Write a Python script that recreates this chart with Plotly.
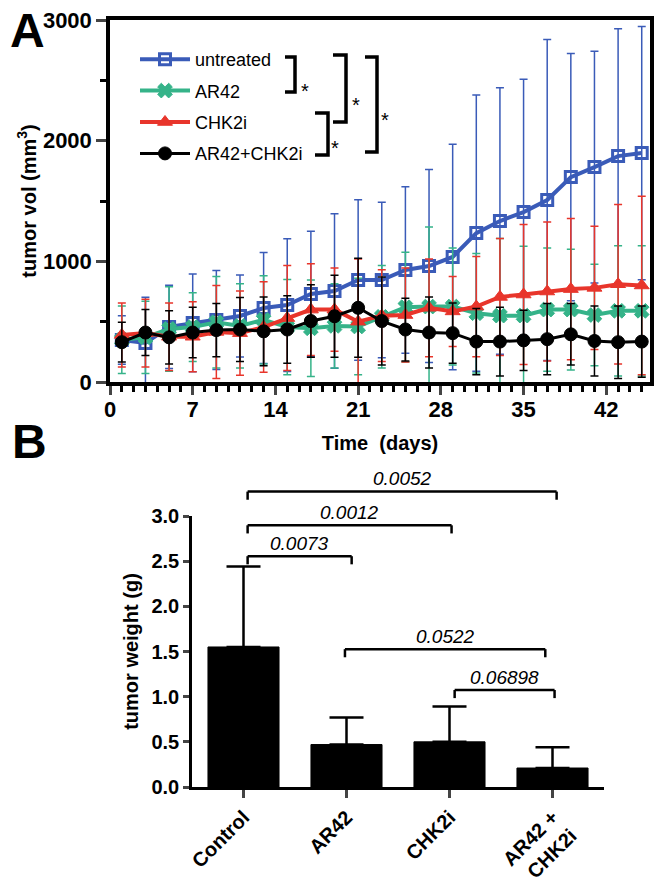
import plotly.graph_objects as go

W, H = 664, 885

# ---- panel A: tumour volume (mm3) over time, mean and SD ----
days = [1, 3, 5, 7, 9, 11, 13, 15, 17, 19, 21, 23, 25, 27, 29, 31, 33, 35, 37, 39, 41, 43, 45]

untreated = [348, 323, 456, 489, 514, 547, 613, 638, 729, 754, 845, 845, 928, 961, 1036,
             1234, 1334, 1408, 1508, 1698, 1781, 1872, 1897]
untreated_sd = [200, 380, 345, 405, 410, 340, 460, 550, 520, 640, 665, 645, 690, 800, 935,
                1145, 1105, 1100, 1330, 1025, 960, 1055, 1050]

ar42 = [350, 370, 440, 455, 495, 465, 515, 455, 445, 465, 460, 540, 620, 625, 625,
        570, 550, 550, 600, 600, 555, 590, 590]
ar42_sd = [280, 300, 350, 285, 380, 350, 365, 395, 400, 350, 400, 425, 455, 660, 485,
           495, 640, 575, 510, 500, 420, 540, 540]

chk2i = [390, 405, 375, 375, 415, 405, 455, 530, 600, 600, 500, 550, 555, 615, 585,
         625, 705, 725, 750, 770, 780, 810, 800]
chk2i_sd = [265, 280, 280, 290, 385, 350, 375, 435, 380, 345, 520, 380, 390, 405, 290,
            415, 485, 580, 575, 585, 510, 660, 740]

combo = [330, 410, 370, 410, 430, 435, 420, 435, 505, 545, 615, 505, 435, 410, 405,
         335, 335, 345, 355, 395, 340, 330, 335]
combo_sd = [165, 190, 220, 210, 220, 265, 285, 280, 300, 340, 410, 365, 260, 295, 250,
            275, 285, 250, 295, 255, 290, 300, 295]

# ---- panel B: tumour weight at end point ----
groups = ['Control', 'AR42', 'CHK2i', 'AR42 +<br>CHK2i']
weight = [1.55, 0.47, 0.50, 0.21]
weight_sd = [0.89, 0.30, 0.39, 0.23]

# p-values and which two groups they compare
p_labels = ['0.0073', '0.0012', '0.0052', '0.0522', '0.06898']
p_pairs = [(0, 1), (0, 2), (0, 3), (1, 3), (2, 3)]

FONT = 'Arial, Liberation Sans, sans-serif'
BLUE, GREEN, RED = '#3a5bb8', '#35b389', '#e8352b'


def px(x):
    return x / W


def py(y):
    return 1 - y / H


fig = go.Figure()

series = [
    ('untreated', untreated, untreated_sd, BLUE, 'square-open', 11, 3),
    ('AR42', ar42, ar42_sd, GREEN, 'x', 13, 1),
    ('CHK2i', chk2i, chk2i_sd, RED, 'triangle-up', 13, 1),
    ('AR42+CHK2i', combo, combo_sd, 'black', 'circle', 13, 1),
]
for name, vals, sd, col, sym, size, mlw in series:
    fig.add_trace(go.Scatter(
        x=days, y=vals, name=name, legendgroup=name,
        mode='lines+markers',
        line=dict(color=col, width=4 if col != 'black' else 3),
        marker=dict(symbol=sym, size=size, color=col, line=dict(color=col, width=mlw)),
        error_y=dict(type='data', array=sd, color=col, thickness=1.5, width=4),
        xaxis='x', yaxis='y',
    ))

fig.add_trace(go.Bar(
    x=list(range(len(groups))), y=weight, width=0.69,
    marker=dict(color='black', line=dict(color='black', width=1)),
    error_y=dict(type='data', array=weight_sd, arrayminus=[0] * len(groups),
                 symmetric=False, color='black', thickness=2.5, width=17),
    showlegend=False, xaxis='x2', yaxis='y2',
))

tickfont = dict(family=FONT, size=22, color='black', weight='bold')
titlefont = dict(family=FONT, size=20, color='black', weight='bold')

# automargin off everywhere: the domains below are exact pixel positions
fig.update_layout(
    width=W, height=H,
    margin=dict(l=0, r=0, t=0, b=0, autoexpand=False),
    paper_bgcolor='white', plot_bgcolor='white',
    showlegend=True,
    legend=dict(x=px(135), y=py(41), xanchor='left', yanchor='top',
                font=dict(family=FONT, size=18, color='black'),
                bgcolor='rgba(0,0,0,0)', tracegroupgap=5, itemwidth=50),
    xaxis=dict(domain=[px(110), px(650)], range=[0, 45.7], anchor='y', automargin=False,
               tickvals=[0, 7, 14, 21, 28, 35, 42], ticks='outside', ticklen=9, tickwidth=3,
               ticklabelstandoff=-4,
               minor=dict(dtick=1, tick0=0, ticks='outside', ticklen=6, tickwidth=2.5, tickcolor='black'),
               showline=True, linewidth=3.5, linecolor='black', mirror=True,
               showgrid=False, zeroline=False, tickfont=tickfont,
               title=dict(text='Time  (days)', font=titlefont, standoff=16)),
    yaxis=dict(domain=[py(382), py(20)], range=[0, 3000], anchor='x', automargin=False,
               tickvals=[0, 1000, 2000, 3000], ticks='outside', ticklen=10, tickwidth=3,
               minor=dict(dtick=500, ticks='outside', ticklen=6, tickwidth=3, tickcolor='black'),
               showline=True, linewidth=3.5, linecolor='black', mirror=True,
               showgrid=False, zeroline=False, tickfont=tickfont,
               title=dict(text='tumor vol (mm<sup>3</sup>)', font=titlefont, standoff=2)),
    xaxis2=dict(domain=[px(192), px(604)], range=[-0.5, 3.5], anchor='y2', automargin=False,
                tickvals=list(range(len(groups))), ticktext=groups, tickangle=-45,
                ticks='outside', ticklen=8, tickwidth=2.5,
                showline=True, linewidth=2.5, linecolor='black',
                showgrid=False, zeroline=False,
                tickfont=dict(family=FONT, size=20, color='black', weight='bold')),
    yaxis2=dict(domain=[py(787), py(516)], range=[0, 3.0], anchor='x2', automargin=False,
                tickvals=[0, 0.5, 1.0, 1.5, 2.0, 2.5, 3.0], tickformat='.1f',
                ticks='outside', ticklen=6, tickwidth=2.5,
                showline=True, linewidth=2.5, linecolor='black',
                showgrid=False, zeroline=False,
                tickfont=dict(family=FONT, size=20, color='black', weight='bold'),
                title=dict(text='tumor weight (g)', font=titlefont, standoff=8)),
)

# panel letters
for letter, cx, cy in [('A', 28, 30), ('B', 29, 441)]:
    fig.add_annotation(text=letter, x=px(cx), y=py(cy), xref='paper', yref='paper',
                       showarrow=False, xanchor='center', yanchor='middle',
                       font=dict(family=FONT, size=48, color='black', weight='bold'))

# significance brackets next to the legend (pixel positions: left, right, top, bottom, star x, star y)
legend_brackets = [
    (285, 295, 57, 92, 305, 78),
    (315, 328, 113, 155, 335, 135),
    (333, 346, 55, 122, 356, 92),
    (365, 377, 57, 152, 385, 107),
]
for x0, x1, y0, y1, sx, sy in legend_brackets:
    path = 'M {a},{b} L {c},{b} L {c},{d} L {a},{d}'.format(a=px(x0), b=py(y0), c=px(x1), d=py(y1))
    fig.add_shape(type='path', path=path, xref='paper', yref='paper',
                  line=dict(color='black', width=3.5))
    fig.add_annotation(text='*', x=px(sx), y=py(sy), xref='paper', yref='paper',
                       showarrow=False, font=dict(family=FONT, size=20, color='black'))

# p-value brackets in panel B (height in g, small x offsets at each end)
bracket_y = [2.555, 2.897, 3.27, 1.526, 1.074]
bracket_dx = [(0.04, 0.05), (0.04, 0.02), (0.04, 0.04), (-0.015, -0.07), (0.05, 0.02)]
drop = 0.09
for label, (i, j), yb, (d0, d1) in zip(p_labels, p_pairs, bracket_y, bracket_dx):
    xa, xb = i + d0, j + d1
    for sx0, sx1, sy0, sy1 in [(xa, xb, yb, yb), (xa, xa, yb - drop, yb), (xb, xb, yb - drop, yb)]:
        fig.add_shape(type='line', x0=sx0, x1=sx1, y0=sy0 / 3.0, y1=sy1 / 3.0,
                      xref='x2', yref='y2 domain', line=dict(color='black', width=2.5))
    fig.add_annotation(text='<i>%s</i>' % label, x=(xa + xb) / 2, y=(yb + 0.14) / 3.0,
                       xref='x2', yref='y2 domain', showarrow=False, yanchor='middle',
                       font=dict(family=FONT, size=19, color='black'))

# the page body has a default 8px margin; drop it so the figure sits at the window corner
fig.write_html('out.html', config={'displayModeBar': False},
               post_script="document.body.style.margin='0';")
